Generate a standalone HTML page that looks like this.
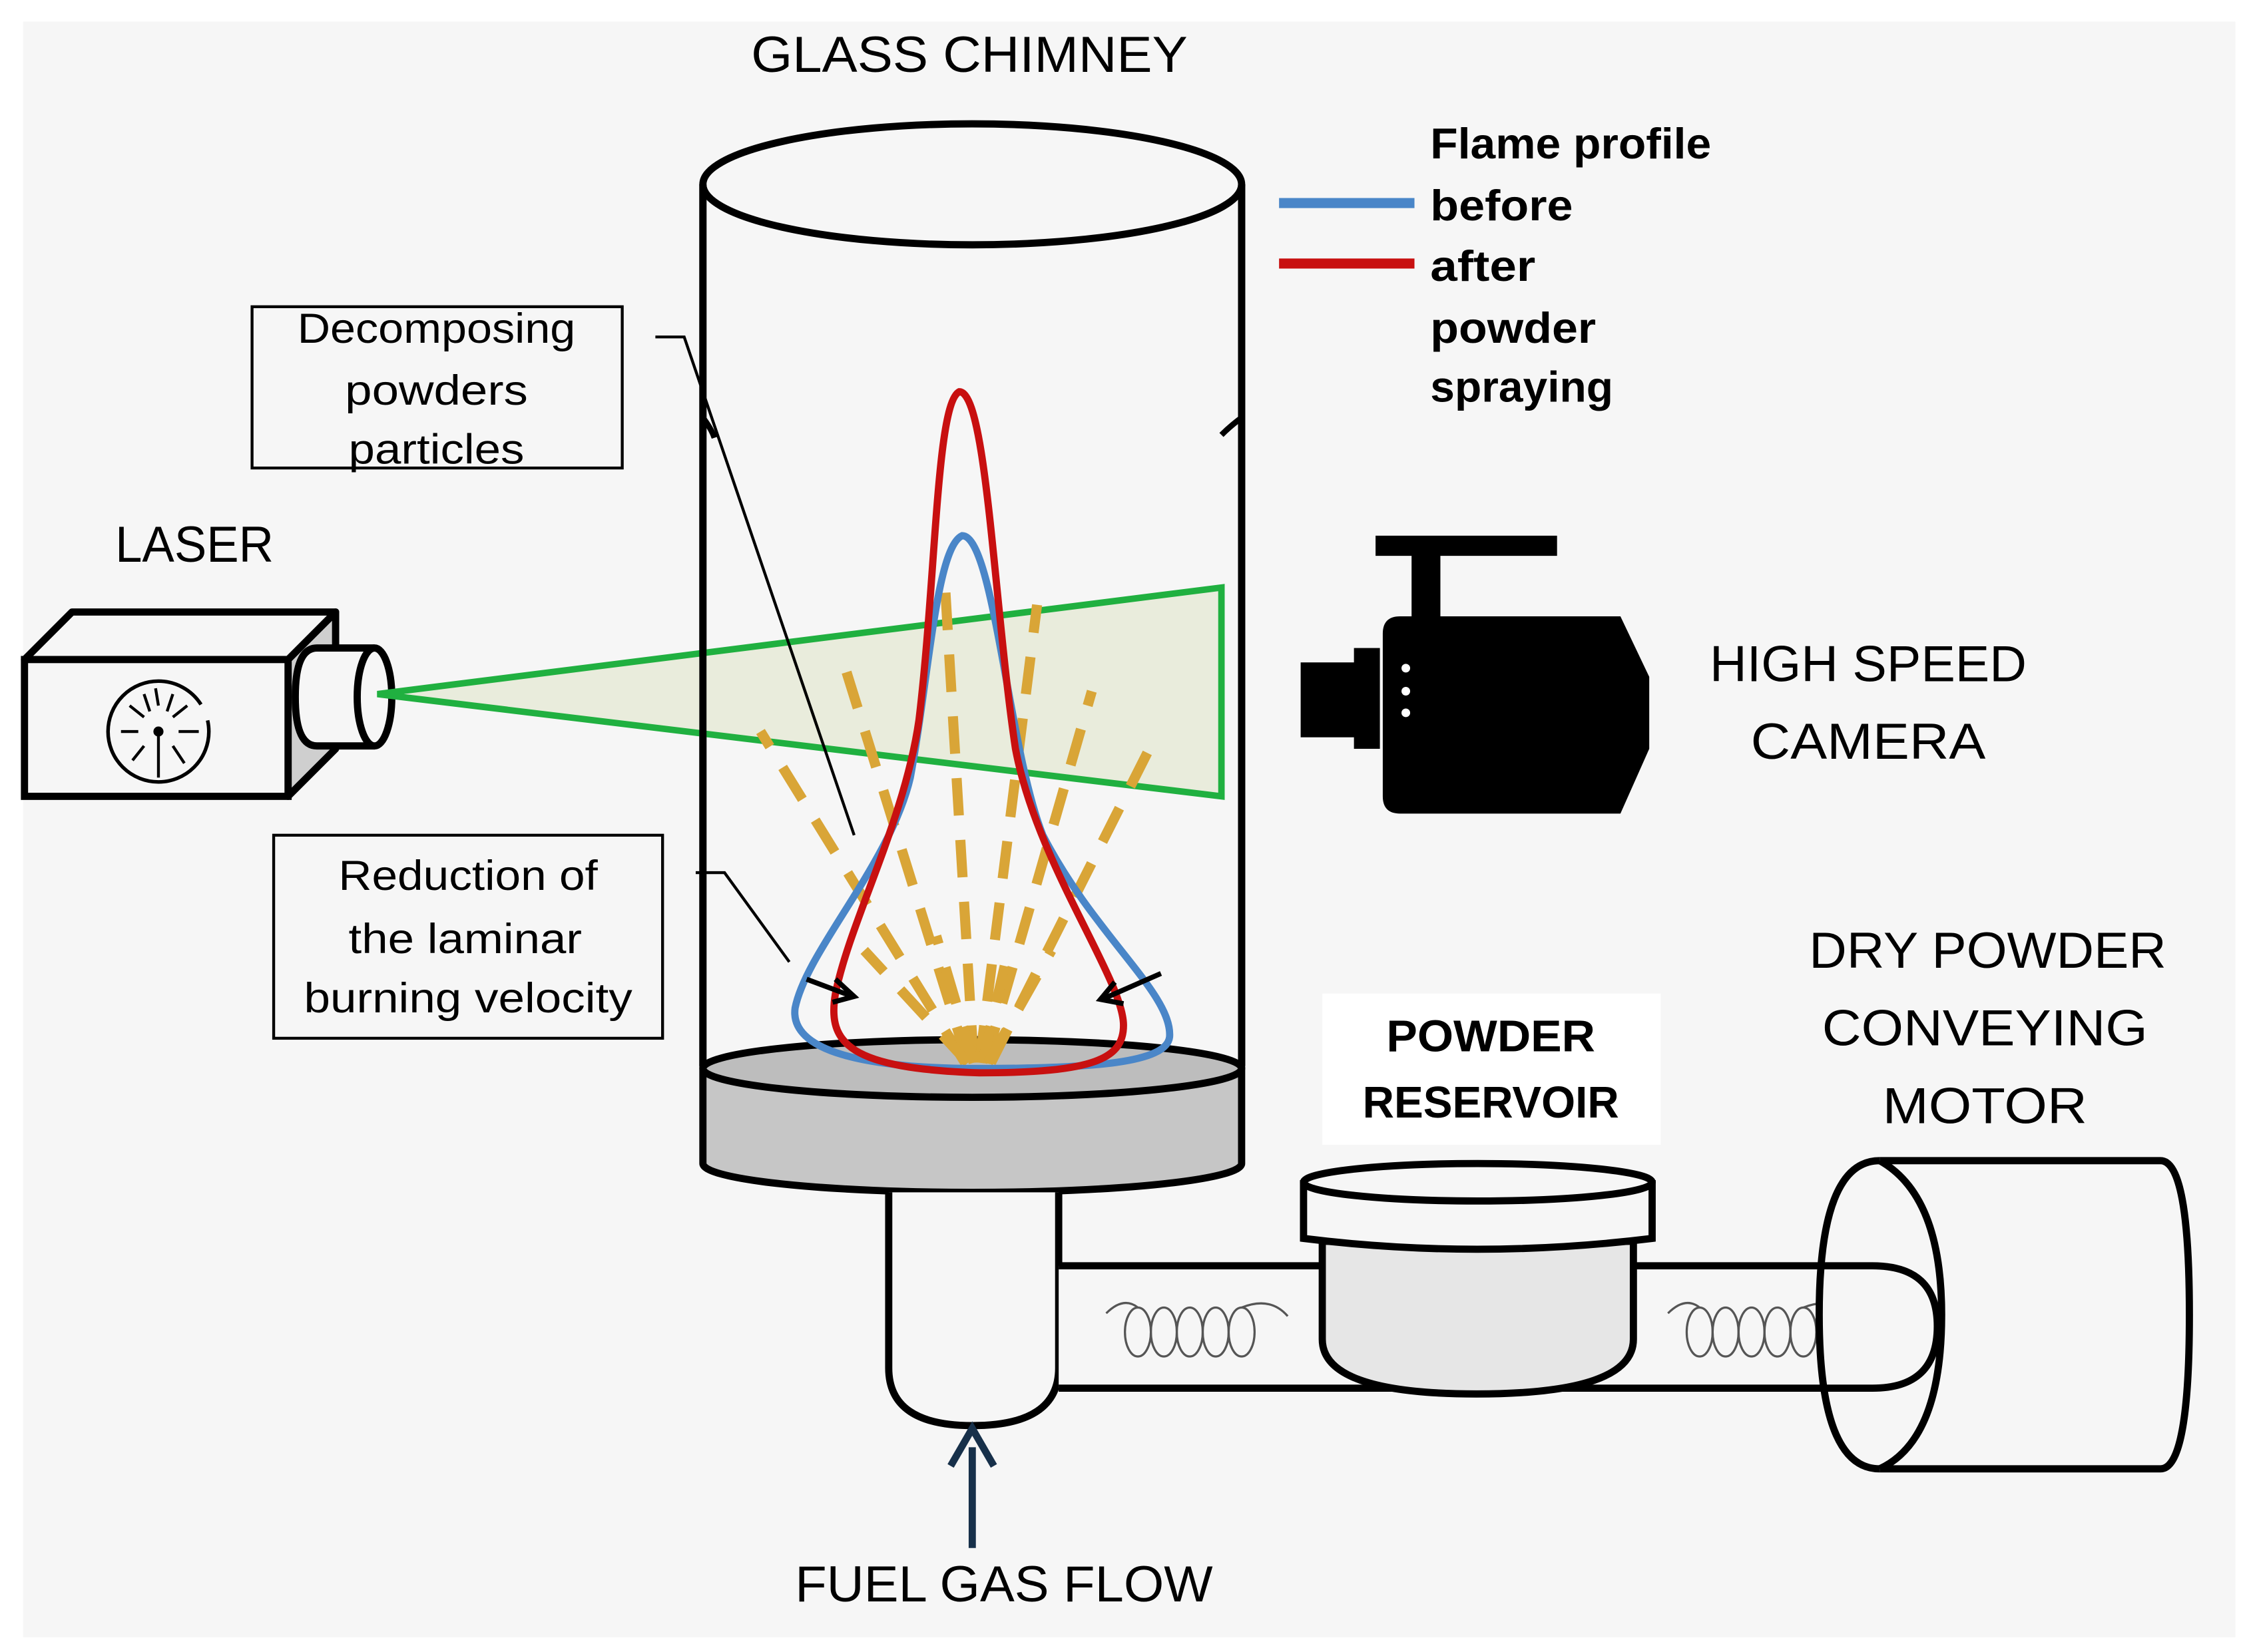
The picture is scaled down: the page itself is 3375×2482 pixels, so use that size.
<!DOCTYPE html>
<html><head><meta charset="utf-8"><style>html,body{margin:0;padding:0;background:#fff}svg{display:block}</style></head>
<body>
<svg width="3375" height="2482" viewBox="0 0 1560 1147.2" preserveAspectRatio="none" xmlns="http://www.w3.org/2000/svg" font-family="Liberation Sans, sans-serif">
<rect x="0" y="0" width="1560" height="1147.2" fill="#fff"/>
<rect x="16" y="15" width="1536" height="1122" fill="#f6f6f6"/>

<text x="673" y="50" font-size="35" text-anchor="middle" textLength="303" lengthAdjust="spacingAndGlyphs">GLASS CHIMNEY</text>

<path d="M488 128 L488 740 M862 128 L862 740" stroke="#000" stroke-width="5" fill="none"/>
<ellipse cx="675" cy="128" rx="187" ry="42" fill="#f6f6f6" stroke="#000" stroke-width="5"/>
<path d="M488 290 q6 8 8 14 M862 290 q-8 6 -14 12" stroke="#000" stroke-width="4" fill="none"/>

<path d="M488 742 L488 808 A187 20 0 0 0 862 808 L862 742 Z" fill="#c6c6c6" stroke="#000" stroke-width="5"/>
<ellipse cx="675" cy="742" rx="187" ry="20" fill="#bdbdbd" stroke="#000" stroke-width="5"/>

<path d="M617 828 L617 950 Q617 990 675 990 Q735 990 735 950 L735 828" fill="#f6f6f6" stroke="#000" stroke-width="5"/>

<path d="M735 879 L1300 879 Q1345 879 1345 921 Q1345 964 1300 964 L735 964" fill="#f6f6f6" stroke="#000" stroke-width="5"/>
<g fill="none" stroke="#555" stroke-width="1.5">
<ellipse cx="790" cy="925" rx="9" ry="17"/><ellipse cx="808" cy="925" rx="9" ry="17"/><ellipse cx="826" cy="925" rx="9" ry="17"/><ellipse cx="844" cy="925" rx="9" ry="17"/><ellipse cx="862" cy="925" rx="9" ry="17"/>
<path d="M768 912 q12 -12 22 -4 M862 908 q20 -8 32 6"/>
<ellipse cx="1180" cy="925" rx="9" ry="17"/><ellipse cx="1198" cy="925" rx="9" ry="17"/><ellipse cx="1216" cy="925" rx="9" ry="17"/><ellipse cx="1234" cy="925" rx="9" ry="17"/><ellipse cx="1252" cy="925" rx="9" ry="17"/>
<path d="M1158 912 q12 -12 22 -4 M1252 908 q20 -8 32 6"/>
</g>

<path d="M918 862 L918 930 Q918 968 1025 968 Q1134 968 1134 930 L1134 862 Z" fill="#e6e6e6" stroke="#000" stroke-width="5"/>
<path d="M905 822 L905 860 Q1025 875 1147 860 L1147 822 Z" fill="#f6f6f6" stroke="#000" stroke-width="5"/>
<ellipse cx="1026" cy="821" rx="121" ry="13" fill="#f6f6f6" stroke="#000" stroke-width="5"/>

<path d="M1305 806 L1500 806 Q1520 806 1520 913 Q1520 1020 1500 1020 L1305 1020" fill="#f6f6f6" stroke="#000" stroke-width="5"/>
<path d="M1305 806 Q1263 806 1263 913 Q1263 1020 1305 1020" fill="#f6f6f6" stroke="#000" stroke-width="5"/>
<path d="M1305 806 Q1348 830 1348 913 Q1348 1000 1305 1020" fill="none" stroke="#000" stroke-width="5"/>
<path d="M1265 879 L1300 879 Q1345 879 1345 921 Q1345 964 1300 964 L1265 964" fill="none" stroke="#000" stroke-width="5"/>

<path d="M200 458 L233 425 L233 520 L200 553 Z" fill="#cfcfcf" stroke="#000" stroke-width="5" stroke-linejoin="round"/>
<path d="M17 458 L50 425 L233 425 L200 458 Z" fill="#f6f6f6" stroke="#000" stroke-width="5" stroke-linejoin="round"/>
<rect x="17" y="458" width="183" height="95" fill="#f6f6f6" stroke="#000" stroke-width="5"/>
<path d="M260 450 L220 450 Q205 450 205 484 Q205 518 220 518 L260 518" fill="#f6f6f6" stroke="#000" stroke-width="5"/>
<ellipse cx="260" cy="484" rx="12" ry="34" fill="#f6f6f6" stroke="#000" stroke-width="5"/>
<circle cx="110" cy="508" r="35" fill="none" stroke="#000" stroke-width="2.5" stroke-dasharray="200 12"/>
<g stroke="#000" stroke-width="2">
<line x1="110" y1="508" x2="110" y2="540"/><line x1="110" y1="490" x2="108" y2="478"/>
<line x1="96" y1="508" x2="84" y2="508"/><line x1="124" y1="508" x2="138" y2="508"/>
<line x1="100" y1="498" x2="90" y2="490"/><line x1="120" y1="498" x2="130" y2="490"/>
<line x1="100" y1="518" x2="92" y2="528"/><line x1="120" y1="518" x2="128" y2="530"/>
<line x1="104" y1="494" x2="100" y2="482"/><line x1="116" y1="494" x2="120" y2="482"/>
</g>
<circle cx="110" cy="508" r="3.5" fill="#000"/>

<polygon points="262,482 848,408 848,553" fill="#e9ecdc" stroke="#20b040" stroke-width="4.5"/>

<path d="M488 128 L488 740 M862 128 L862 740" stroke="#000" stroke-width="5" fill="none"/>

<g stroke="#d9a537" stroke-width="7" fill="none" stroke-dasharray="26 17">
<line x1="670" y1="738" x2="528" y2="508"/>
<line x1="672" y1="738" x2="585" y2="458"/>
<line x1="676" y1="738" x2="656" y2="405"/>
<line x1="680" y1="738" x2="720" y2="420"/>
<line x1="684" y1="738" x2="758" y2="480"/>
<line x1="688" y1="738" x2="804" y2="508"/>
<line x1="672" y1="738" x2="600" y2="660"/>
<line x1="676" y1="738" x2="650" y2="650"/>
<line x1="682" y1="738" x2="700" y2="660"/>
<line x1="686" y1="738" x2="730" y2="660"/>
</g>

<path d="M668 372 C650 380 645 470 632 540 C618 600 560 660 552 700 C548 730 600 742 680 742 C760 742 810 738 812 720 C814 690 760 650 724 580 C700 520 690 372 668 372 Z" fill="none" stroke="#4a86c8" stroke-width="5"/>
<path d="M666 272 C650 280 650 400 638 500 C628 570 590 640 580 690 C574 725 590 742 680 745 C760 745 780 735 780 712 C780 680 720 600 705 520 C690 420 685 272 666 272 Z" fill="none" stroke="#c81010" stroke-width="5"/>

<g stroke="#000" stroke-width="3.5" fill="none">
<line x1="560" y1="680" x2="592" y2="692"/><path d="M580 680 L593 692 L578 696"/>
<line x1="806" y1="676" x2="765" y2="694"/><path d="M774 682 L764 694 L780 697"/>
</g>

<g stroke="#000" stroke-width="2" fill="none">
<path d="M455 234 L475 234 L593 580"/>
<path d="M483 606 L503 606 L548 668"/>
</g>

<rect x="175" y="213" width="257" height="112" fill="#f6f6f6" stroke="#000" stroke-width="2"/>
<g font-size="29" text-anchor="middle">
<text x="303" y="238" textLength="193" lengthAdjust="spacingAndGlyphs">Decomposing</text>
<text x="303" y="281" textLength="127" lengthAdjust="spacingAndGlyphs">powders</text>
<text x="303" y="322" textLength="122" lengthAdjust="spacingAndGlyphs">particles</text>
</g>
<rect x="190" y="580" width="270" height="141" fill="#f6f6f6" stroke="#000" stroke-width="2"/>
<g font-size="29" text-anchor="middle">
<text x="325" y="618" textLength="180" lengthAdjust="spacingAndGlyphs">Reduction of</text>
<text x="323" y="662" textLength="162" lengthAdjust="spacingAndGlyphs">the laminar</text>
<text x="325" y="703" textLength="228" lengthAdjust="spacingAndGlyphs">burning velocity</text>
</g>

<text x="80" y="390" font-size="35" textLength="110" lengthAdjust="spacingAndGlyphs">LASER</text>

<line x1="888" y1="141" x2="982" y2="141" stroke="#4a86c8" stroke-width="7"/>
<line x1="888" y1="183" x2="982" y2="183" stroke="#c81010" stroke-width="7"/>
<g font-size="30" font-weight="bold">
<text x="993" y="110" textLength="195" lengthAdjust="spacingAndGlyphs">Flame profile</text>
<text x="993" y="153" textLength="99" lengthAdjust="spacingAndGlyphs">before</text>
<text x="993" y="195" textLength="73" lengthAdjust="spacingAndGlyphs">after</text>
<text x="993" y="238" textLength="115" lengthAdjust="spacingAndGlyphs">powder</text>
<text x="993" y="279" textLength="127" lengthAdjust="spacingAndGlyphs">spraying</text>
</g>

<rect x="955" y="372" width="126" height="14" fill="#000"/>
<rect x="980" y="380" width="20" height="52" fill="#000"/>
<path d="M972 428 L1125 428 L1145 470 L1145 520 L1125 565 L972 565 Q960 565 960 553 L960 440 Q960 428 972 428 Z" fill="#000"/>
<rect x="940" y="450" width="18" height="70" fill="#000"/>
<rect x="903" y="460" width="40" height="52" fill="#000"/>
<circle cx="976" cy="464" r="3" fill="#fff"/><circle cx="976" cy="480" r="3" fill="#fff"/><circle cx="976" cy="495" r="3" fill="#fff"/>

<g font-size="35" text-anchor="middle">
<text x="1297" y="473" textLength="220" lengthAdjust="spacingAndGlyphs">HIGH SPEED</text>
<text x="1297" y="527" textLength="163" lengthAdjust="spacingAndGlyphs">CAMERA</text>
<text x="1380" y="672" textLength="248" lengthAdjust="spacingAndGlyphs">DRY POWDER</text>
<text x="1378" y="726" textLength="226" lengthAdjust="spacingAndGlyphs">CONVEYING</text>
<text x="1378" y="780" textLength="142" lengthAdjust="spacingAndGlyphs">MOTOR</text>
<text x="697" y="1112" textLength="290" lengthAdjust="spacingAndGlyphs">FUEL GAS FLOW</text>
</g>
<rect x="918" y="690" width="235" height="105" fill="#fff"/>
<g font-size="31" font-weight="bold" text-anchor="middle">
<text x="1035" y="730" textLength="145" lengthAdjust="spacingAndGlyphs">POWDER</text>
<text x="1035" y="776" textLength="178" lengthAdjust="spacingAndGlyphs">RESERVOIR</text>
</g>

<line x1="675" y1="1075" x2="675" y2="1005" stroke="#17304a" stroke-width="5"/>
<path d="M660 1018 L675 992 L690 1018" fill="none" stroke="#17304a" stroke-width="5"/>
</svg>
</body></html>
